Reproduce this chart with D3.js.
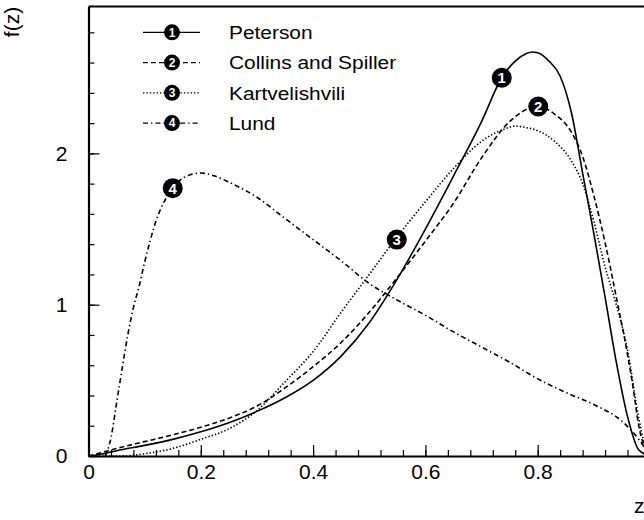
<!DOCTYPE html>
<html lang="en">
	<head>
		<meta charset="utf-8">
		<title>f(z) fragmentation functions</title>
		<style type="text/css">

		body {
			background-color: white;
			margin: 0px;
			padding: 0px;
		}

		svg {
			display: block;
			font-family: 'Liberation Sans', Arial, sans-serif;
		}

		.axis path {
			stroke: black;
			stroke-width: 2.2px;
		}

		.axis line {
			stroke: black;
			stroke-width: 1.2px;
		}

		.axis text {
			font-size: 21px;
			fill: black;
			font-family: 'Liberation Sans', Arial, sans-serif;
		}

		.minor path {
			display: none;
		}

		.curve {
			fill: none;
			stroke: black;
			stroke-width: 1.6px;
		}

		</style>
	</head>
	<body>
		<div id="svganchor"></div>

		<script src="https://d3js.org/d3.v7.min.js"></script>
		<script type="text/javascript">

			// values
			const zPeterson = [0, 0.02, 0.05, 0.1, 0.15, 0.2, 0.25, 0.3, 0.35, 0.4, 0.45, 0.5, 0.55, 0.6, 0.65, 0.7, 0.736, 0.76, 0.78, 0.79, 0.8, 0.82, 0.84, 0.86, 0.88, 0.9, 0.92, 0.94, 0.96, 0.98, 1.0];
			const fPeterson = [0, 0.01, 0.035, 0.07, 0.11, 0.16, 0.22, 0.295, 0.385, 0.50, 0.66, 0.88, 1.17, 1.50, 1.85, 2.21, 2.50, 2.61, 2.66, 2.67, 2.665, 2.61, 2.51, 2.27, 1.87, 1.47, 1.05, 0.62, 0.26, 0.04, 0];

			const zCollins = [0, 0.02, 0.05, 0.1, 0.15, 0.2, 0.25, 0.3, 0.35, 0.4, 0.45, 0.5, 0.55, 0.6, 0.65, 0.7, 0.75, 0.8, 0.83, 0.86, 0.88, 0.9, 0.92, 0.94, 0.96, 0.97, 0.98, 0.99, 1.0];
			const fCollins = [0, 0.02, 0.05, 0.095, 0.14, 0.19, 0.25, 0.33, 0.45, 0.59, 0.75, 0.95, 1.18, 1.42, 1.67, 1.97, 2.21, 2.31, 2.26, 2.14, 1.98, 1.72, 1.41, 1.05, 0.67, 0.45, 0.20, 0.06, 0];

			const zKart = [0, 0.05, 0.08, 0.1, 0.15, 0.2, 0.25, 0.3, 0.35, 0.4, 0.45, 0.5, 0.55, 0.6, 0.65, 0.7, 0.74, 0.76, 0.78, 0.8, 0.83, 0.86, 0.88, 0.9, 0.92, 0.94, 0.96, 0.98, 0.99, 1.0];
			const fKart = [0, 0, 0.005, 0.015, 0.05, 0.11, 0.18, 0.30, 0.49, 0.69, 0.95, 1.20, 1.45, 1.68, 1.90, 2.08, 2.16, 2.18, 2.17, 2.15, 2.08, 1.95, 1.80, 1.55, 1.25, 1.0, 0.70, 0.25, 0.08, 0];

			const zLund = [0.03, 0.04, 0.05, 0.06, 0.07, 0.08, 0.09, 0.1, 0.12, 0.15, 0.175, 0.2, 0.225, 0.25, 0.3, 0.35, 0.4, 0.45, 0.5, 0.55, 0.6, 0.65, 0.7, 0.75, 0.8, 0.85, 0.9, 0.95, 0.98, 1.0];
			const fLund = [0, 0.12, 0.35, 0.58, 0.80, 0.98, 1.12, 1.28, 1.55, 1.77, 1.85, 1.87, 1.85, 1.81, 1.71, 1.57, 1.43, 1.29, 1.14, 1.03, 0.93, 0.82, 0.72, 0.62, 0.51, 0.42, 0.34, 0.23, 0.11, 0];

			const names = ["Peterson", "Collins and Spiller", "Kartvelishvili", "Lund"];
			const markerZ = [0.736, 0.801, 0.549, 0.150];
			const markerF = [2.50, 2.31, 1.43, 1.77];

			// the 1.0 label lies past the right edge of the picture
			const xTicks = [0, 0.2, 0.4, 0.6, 0.8];
			const yTicks = [0, 1, 2];

			const width = 644,
			    height = 520,
			    dashes = ["none", "5,3", "1.4,2", "5,3,1.4,3"];

			const xScale = d3.scaleLinear()
			    .domain([0, 1])
			    .range([88.5, 650]);

			const yScale = d3.scaleLinear()
			    .domain([0, 2.97])
			    .range([456, 6.6]);

			const svg = d3.select("#svganchor")
			    .append("svg")
			    .attr("width", width)
			    .attr("height", height);

			drawAxes();
			drawCurves();
			drawLegend();

			function drawAxes(){

				// minor ticks, inside the frame
				svg.append("g")
				    .attr("class", "axis minor")
				    .attr("transform", "translate(0," + yScale(0) + ")")
				    .call(d3.axisBottom(xScale)
				        .tickValues(d3.range(0, 1.001, 0.04))
				        .tickSizeInner(-6)
				        .tickSizeOuter(0)
				        .tickFormat(""));

				svg.append("g")
				    .attr("class", "axis minor")
				    .attr("transform", "translate(" + xScale(0) + ",0)")
				    .call(d3.axisLeft(yScale)
				        .tickValues(d3.range(0, 2.9, 0.2))
				        .tickSizeInner(-6)
				        .tickSizeOuter(0)
				        .tickFormat(""));

				svg.append("g")
				    .attr("class", "axis")
				    .attr("transform", "translate(0," + yScale(0) + ")")
				    .call(d3.axisBottom(xScale)
				        .tickValues(xTicks)
				        .tickSizeInner(-11)
				        .tickSizeOuter(0)
				        .tickPadding(8)
				        .tickFormat(function(d){ return d === 0 ? "0" : d3.format(".1f")(d); }));

				svg.append("g")
				    .attr("class", "axis")
				    .attr("transform", "translate(" + xScale(0) + ",0)")
				    .call(d3.axisLeft(yScale)
				        .tickValues(yTicks)
				        .tickSizeInner(-11)
				        .tickSizeOuter(0)
				        .tickPadding(21)
				        .tickFormat(d3.format("d")));

				// top and right sides of the frame
				svg.append("path")
				    .attr("d", "M" + xScale(0) + "," + yScale(2.97) + "H" + xScale(1) + "V" + yScale(0))
				    .style("fill", "none")
				    .style("stroke", "black")
				    .style("stroke-width", "2px");

				svg.append("text")
				    .attr("transform", "translate(19,22) rotate(-90)")
				    .attr("text-anchor", "middle")
				    .style("font-size", "21px")
				    .text("f(z)");

				svg.append("text")
				    .attr("x", 634)
				    .attr("y", 513)
				    .style("font-size", "21px")
				    .text("z");
			};

			function drawCurves(){

				const series = [
					d3.zip(zPeterson, fPeterson),
					d3.zip(zCollins, fCollins),
					d3.zip(zKart, fKart),
					d3.zip(zLund, fLund)
				];

				const line = d3.line()
				    .x(function(d){ return xScale(d[0]); })
				    .y(function(d){ return yScale(d[1]); })
				    .curve(d3.curveMonotoneX);

				svg.selectAll(null)
				    .data(series)
				    .enter()
				    .append("path")
				    .attr("class", "curve")
				    .attr("d", line)
				    .style("stroke-dasharray", function(_, i){ return dashes[i]; });

				const marks = svg.selectAll(null)
				    .data(markerZ)
				    .enter()
				    .append("g")
				    .attr("transform", function(d, i){
				    	return "translate(" + xScale(d) + "," + yScale(markerF[i]) + ")";
				    });

				drawMarker(marks, 10, 15);
			};

			function drawMarker(sel, r, size){
				sel.append("circle")
				    .attr("r", r)
				    .style("fill", "black");

				sel.append("text")
				    .attr("text-anchor", "middle")
				    .attr("dy", "0.36em")
				    .style("font-size", size + "px")
				    .style("font-weight", "bold")
				    .style("fill", "white")
				    .text(function(_, i){ return i + 1; });
			};

			function drawLegend(){

				const rowF = [2.8, 2.6, 2.4, 2.2];

				const rows = svg.selectAll(null)
				    .data(names)
				    .enter()
				    .append("g")
				    .attr("transform", function(_, i){
				    	return "translate(0," + yScale(rowF[i]) + ")";
				    });

				rows.append("line")
				    .attr("x1", 143)
				    .attr("x2", 200)
				    .style("stroke", "black")
				    .style("stroke-width", "1.3px")
				    .style("stroke-dasharray", function(_, i){ return dashes[i]; });

				const marks = rows.append("g")
				    .attr("transform", "translate(172,0)");

				drawMarker(marks, 8, 12);

				rows.append("text")
				    .attr("transform", "translate(229,0) scale(1.13,1)")
				    .attr("dy", "0.36em")
				    .style("font-size", "18.5px")
				    .text(function(d){ return d; });
			};

		</script>
	</body>
</html>
